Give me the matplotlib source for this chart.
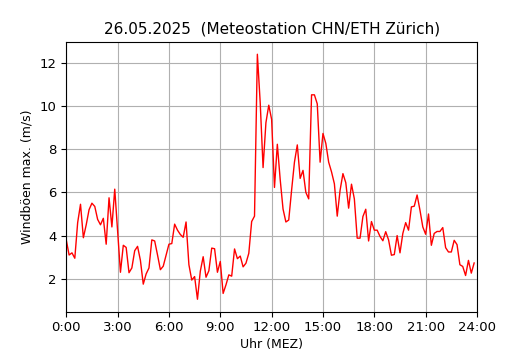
import numpy as np
import matplotlib
matplotlib.use("Agg")
import matplotlib.pyplot as plt

# 10-minute max gusts, 0:00 .. 23:50
gusts = [
    3.8, 3.1, 3.2, 2.95, 4.6, 5.45, 3.9, 4.5, 5.2, 5.5, 5.35, 4.75,
    4.5, 4.8, 3.6, 5.75, 4.4, 6.15, 4.2, 2.3, 3.55, 3.45, 2.28, 2.5,
    3.3, 3.5, 2.85, 1.75, 2.22, 2.5, 3.8, 3.75, 3.1, 2.42, 2.58, 3.1,
    3.6, 3.63, 4.53, 4.25, 4.05, 3.92, 4.63, 2.65, 1.94, 2.1, 1.05, 2.35,
    3.02, 2.07, 2.37, 3.42, 3.39, 2.3, 2.8, 1.32, 1.72, 2.18, 2.12, 3.38,
    2.93, 3.05, 2.55, 2.72, 3.18, 4.65, 4.9, 12.4, 10.15, 7.15, 9.23, 10.04,
    9.38, 6.23, 8.23, 6.6, 5.23, 4.63, 4.72, 6.1, 7.4, 8.2, 6.65, 7.02,
    6.0, 5.7, 10.52, 10.52, 10.1, 7.4, 8.73, 8.27, 7.4, 6.95, 6.4, 4.9,
    6.1, 6.87, 6.45, 5.27, 6.38, 5.7, 3.88, 3.88, 4.88, 5.22, 3.75, 4.65,
    4.25, 4.25, 3.96, 3.76, 4.18, 3.8, 3.09, 3.12, 4.0, 3.2, 4.1, 4.6,
    4.25, 5.33, 5.36, 5.88, 5.18, 4.4, 4.06, 5.0, 3.55, 4.1, 4.19, 4.19,
    4.37, 3.44, 3.24, 3.24, 3.78, 3.58, 2.65, 2.57, 2.15, 2.85, 2.26, 2.73,
]
hours = np.arange(len(gusts)) * 10 / 60

tick_hours = list(range(0, 25, 3))
tick_labels = [f"{h}:00" for h in tick_hours]

fig, ax = plt.subplots(figsize=(5.3, 3.5), dpi=100)
ax.plot(hours, gusts, color="red", linewidth=1)
ax.set_xlim(0, 24)
ax.set_xticks(tick_hours)
ax.set_xticklabels(tick_labels)
ax.tick_params(labelsize=9.5)
ax.grid(True)
ax.set_title("26.05.2025  (Meteostation CHN/ETH Zürich)", fontsize=11)
ax.set_xlabel("Uhr (MEZ)", fontsize=9, labelpad=3)
ax.set_ylabel("Windböen max. (m/s)", fontsize=9)

fig.savefig("out.png")
